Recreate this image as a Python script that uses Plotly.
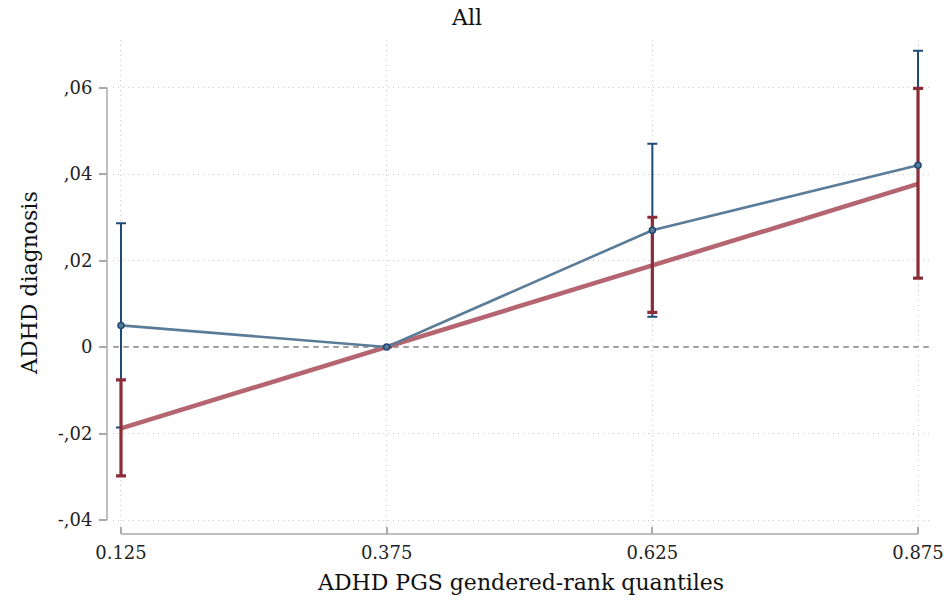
import plotly.graph_objects as go

quantiles = [0.125, 0.375, 0.625, 0.875]
tick_labels_x = ["0.125", "0.375", "0.625", "0.875"]

blue_est = [0.005, 0.0, 0.027, 0.042]
blue_lo = [-0.0186, 0.0, 0.007, 0.016]
blue_hi = [0.0286, 0.0, 0.047, 0.0685]

red_est = [-0.0188, 0.0, 0.0188, 0.0377]
red_lo = [-0.0298, 0.0, 0.008, 0.0159]
red_hi = [-0.0076, 0.0, 0.030, 0.0598]

y_tickvals = [0.06, 0.04, 0.02, 0.0, -0.02, -0.04]
y_ticktext = [",06", ",04", ",02", "0", "-,02", "-,04"]

W, H = 946, 602
FONT = "DejaVu Serif"

def px_x(p):
    return p / W

def px_y(p):
    return 1 - p / H

BLUE_LINE = "#5b7c98"
BLUE_DARK = "#1f4a75"
RED_LINE = "#b5656f"
RED_DARK = "#8c2c38"
GRID = "#c8c8c8"

fig = go.Figure()

fig.add_trace(go.Scatter(
    x=quantiles, y=blue_est, mode="markers",
    marker=dict(size=1, color="rgba(0,0,0,0)"),
    error_y=dict(type="data", symmetric=False,
                 array=[h - e for h, e in zip(blue_hi, blue_est)],
                 arrayminus=[e - l for e, l in zip(blue_est, blue_lo)],
                 color=BLUE_DARK, thickness=2, width=5),
    showlegend=False, hoverinfo="skip"))

fig.add_trace(go.Scatter(
    x=quantiles, y=red_est, mode="lines",
    line=dict(color=RED_LINE, width=4.5),
    showlegend=False))

fig.add_trace(go.Scatter(
    x=quantiles, y=red_est, mode="markers",
    marker=dict(size=1, color="rgba(0,0,0,0)"),
    error_y=dict(type="data", symmetric=False,
                 array=[h - e for h, e in zip(red_hi, red_est)],
                 arrayminus=[e - l for e, l in zip(red_est, red_lo)],
                 color=RED_DARK, thickness=3.2, width=5),
    showlegend=False, hoverinfo="skip"))

fig.add_trace(go.Scatter(
    x=quantiles, y=blue_est, mode="lines+markers",
    line=dict(color=BLUE_LINE, width=2.6),
    marker=dict(size=6, color=BLUE_LINE, line=dict(color=BLUE_DARK, width=1.5)),
    showlegend=False))

x0_pix, x1_pix = 113, 930
y_top_pix, y_bot_pix = 40, 530

fig.update_layout(
    width=W, height=H,
    margin=dict(l=0, r=0, t=0, b=0, autoexpand=False),
    paper_bgcolor="white", plot_bgcolor="white",
    font=dict(family=FONT, color="#222222"),
    xaxis=dict(
        domain=[px_x(x0_pix), px_x(x1_pix)],
        range=[0.125 - (121 - x0_pix) / 1064, 0.875 + (x1_pix - 918) / 1064],
        tickvals=quantiles, ticktext=tick_labels_x,
        tickfont=dict(size=18, family=FONT, color="#222"),
        ticks="inside", ticklen=7, tickcolor="#aaaaaa", tickwidth=1.5,
        ticklabelstandoff=6,
        showgrid=True, gridcolor=GRID, griddash="1px,4px", gridwidth=1,
        showline=False, zeroline=False, automargin=False,
        anchor="free", position=px_y(534),
    ),
    yaxis=dict(
        domain=[px_y(y_bot_pix), px_y(y_top_pix)],
        range=[-(y_bot_pix - 347) / 4325, (347 - y_top_pix) / 4325],
        tickvals=y_tickvals, ticktext=y_ticktext,
        tickfont=dict(size=18, family=FONT, color="#222"),
        ticks="outside", ticklen=8, tickcolor="#aaaaaa", tickwidth=1.5,
        ticklabelstandoff=3,
        showgrid=True, gridcolor=GRID, griddash="1px,4px", gridwidth=1,
        showline=False, zeroline=False, automargin=False,
        anchor="free", position=px_x(107),
    ),
)

fig.add_shape(type="line", xref="paper", yref="y",
              x0=px_x(107), x1=px_x(107), y0=y_tickvals[-1], y1=y_tickvals[0],
              line=dict(color="#aaaaaa", width=1.5), layer="below")
fig.add_shape(type="line", xref="x", yref="paper",
              x0=quantiles[0], x1=quantiles[-1], y0=px_y(534), y1=px_y(534),
              line=dict(color="#aaaaaa", width=1.5), layer="below")
fig.add_shape(type="line", xref="x domain", yref="y",
              x0=0, x1=1, y0=0, y1=0,
              line=dict(color="#444444", width=1.2, dash="6px,4px"), layer="below")

fig.add_annotation(text="All", x=px_x(466), y=px_y(18),
                   xref="paper", yref="paper", showarrow=False,
                   xanchor="center", yanchor="middle",
                   font=dict(size=22, family=FONT, color="#111"))
fig.add_annotation(text="ADHD PGS gendered-rank quantiles",
                   x=px_x(520), y=px_y(582), xref="paper", yref="paper",
                   xanchor="center", yanchor="middle",
                   showarrow=False, font=dict(size=22, family=FONT, color="#111"))
fig.add_annotation(text="ADHD diagnosis", x=px_x(29), y=px_y(283),
                   xref="paper", yref="paper", showarrow=False, textangle=-90,
                   xanchor="center", yanchor="middle",
                   font=dict(size=22, family=FONT, color="#111"))

fig.write_html("out.html", config={"displayModeBar": False},
               post_script="document.body.style.margin='0';document.body.style.overflow='hidden';")
